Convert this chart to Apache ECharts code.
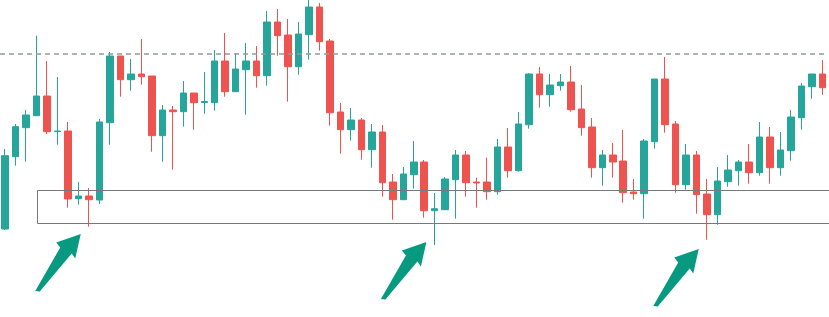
<!DOCTYPE html>
<html>
<head>
<meta charset="utf-8">
<script src="https://cdn.jsdelivr.net/npm/echarts@6/dist/echarts.min.js"></script>
<style>
html,body{margin:0;padding:0;background:#fff;}
#chart{width:829px;height:317px;}
</style>
</head>
<body>
<div id="chart"></div>
<script>
// ---- data (price units) ----
const categories = Array.from({length: 79}, (_, i) => 'D' + (i + 1));
const opens  = [88,160.3,189.3,201.3,221,185.3,186,118.3,121,117,194.3,261,237.3,243,241,181.3,207,205.3,224,214.5,214.3,256,225.3,247.3,256,241.3,295,282,250.3,282.3,310,276,205,187.3,197,167.3,185,135,117.3,142.3,155,106.3,107.3,137.3,162,135,135,125.3,170,146.3,192.3,243,222.3,231.3,235,208,190,149.3,162,156,125,123.3,175.3,238,193,132.3,162,123,102.3,135.3,146.3,155,144.3,180,149.3,166.3,199.3,230.3,243];
const closes = [161.3,190.3,202,221,185.3,186,118,121,117.3,195,261,237.3,243,240.3,181.3,207,205.3,224,214.3,215.5,256,225.3,248,256,241.3,295,281.3,250.3,283,310,275.3,204.3,187.3,197,167.3,185,134.3,117.3,143,155,106.3,108.3,138,162,134.3,134,125.3,170,146.3,193,243,222.3,232,235,207.3,189.3,149.3,162,155,124.3,123.3,176,238,192.3,132.3,162,122.3,102.3,136,147,155,144.3,180,149.3,167,200,231,243,229.3];
const lows   = [87,151.3,155.3,201.3,183,172.3,109.3,112.3,90.3,113,172.3,220.3,226.3,232.3,165.3,155.3,147.3,190.3,187.3,203.3,206.3,220.3,225.3,202.3,229.3,231.3,261.3,215.3,242.3,257.3,266.3,191.3,163.3,176.3,157.3,149.3,120.3,97.3,117.3,128.3,99.3,72,107.3,98.3,120.3,109.3,117.3,122.3,139.3,145.3,188.3,209.3,210.3,226.3,205.3,181.3,139.3,131.3,139.3,114.3,117.3,98.3,168.3,184.3,124.3,127.3,103.3,77.3,92.3,130.3,131.3,133.3,141.3,133.3,141.3,156.3,187.3,218.3,222.3];
const highs  = [168,193,207,281.3,256,240,195,135,129,198,265,261,258,278,241,212,211,236,224,245,267,284,264,274,271,306,308,298,295,317,314,278,214,209,199,193,192,143,150,176,157,124,140,167,166,139.3,159.3,178,189,205,244,250,243,243,251,232,199,167,174,187,138,178,238,260,196,173,166,138,150,162,157,173,195,190,185,207,234,243,257];

// annotations
const resistanceLevel = 263;          // dashed line
const zoneTop = 126.7, zoneBottom = 93.7, zoneStartIndex = 3;  // support box
const arrowCandles = [8, 41, 67];
const arrowTipPrices = [83, 75, 68];

const UP = '#26a69a', DOWN = '#ef5350';

const chart = echarts.init(document.getElementById('chart'), null, {renderer: 'canvas'});
const kdata = categories.map((_, i) => [opens[i], closes[i], lows[i], highs[i]]);

chart.setOption({
  animation: false,
  backgroundColor: '#ffffff',
  grid: {left: -2.5, width: 830, top: 0, bottom: 0},
  xAxis: {type: 'category', data: categories, boundaryGap: true, show: false},
  yAxis: {type: 'value', min: 0, max: 317, show: false},
  series: [{
    type: 'candlestick',
    data: kdata,
    barWidth: 7,
    clip: false,
    itemStyle: {color: UP, color0: DOWN, borderColor: UP, borderColor0: DOWN, borderWidth: 1},
    markLine: {
      silent: true, symbol: 'none', label: {show: false},
      lineStyle: {color: '#9598a1', type: [5, 4], width: 1.5},
      data: [{yAxis: resistanceLevel}]
    }
  }]
});

function px(i, v) { return chart.convertToPixel({gridIndex: 0}, [i, v]); }

const graphics = [];
const zTL = px(zoneStartIndex, zoneTop), zBR = px(zoneStartIndex, zoneBottom);
graphics.push({
  type: 'rect', z: 50,
  shape: {x: Math.round(zTL[0]) + 0.5, y: Math.round(zTL[1]) + 0.5, width: 900, height: Math.round(zBR[1] - zTL[1])},
  style: {fill: 'none', stroke: '#787878', lineWidth: 1}
});
const arrowShape = [[-45.5,57],[-20.5,13.5],[-24.5,8.5],[0,0],[-5.5,24.5],[-9,19.5],[-41,57.5]];
arrowCandles.forEach((ci, k) => {
  const p = px(ci, arrowTipPrices[k]);
  const tx = p[0] - 8.3, ty = p[1];
  graphics.push({
    type: 'polygon', z: 60,
    shape: {points: arrowShape.map(q => [tx + q[0], ty + q[1]])},
    style: {fill: '#089981', stroke: 'none'}
  });
});
chart.setOption({graphic: graphics});
</script>
</body>
</html>
